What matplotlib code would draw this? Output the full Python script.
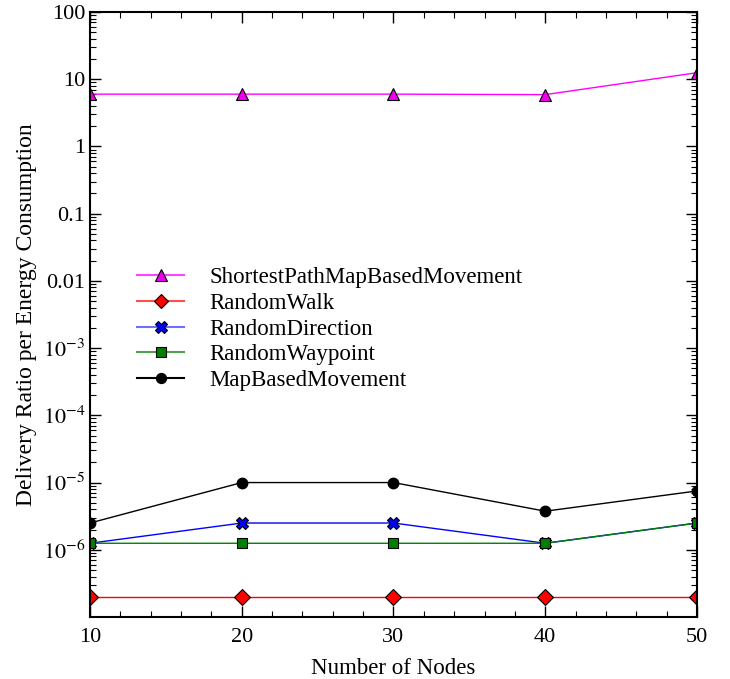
import matplotlib
matplotlib.use("Agg")
import matplotlib.pyplot as plt
from matplotlib.ticker import LogLocator, FixedLocator, MultipleLocator

plt.rcParams['font.family'] = ['Liberation Serif', 'DejaVu Serif']
plt.rcParams['mathtext.fontset'] = 'stix'

nodes = [10, 20, 30, 40, 50]
shortest_path = [6.0, 6.0, 6.0, 5.9, 12.5]
random_walk = [2e-7, 2e-7, 2e-7, 2e-7, 2e-7]
random_direction = [1.25e-6, 2.5e-6, 2.5e-6, 1.25e-6, 2.5e-6]
random_waypoint = [1.25e-6, 1.25e-6, 1.25e-6, 1.25e-6, 2.5e-6]
map_based = [2.5e-6, 1e-5, 1e-5, 3.75e-6, 7.5e-6]

y_ticks = [1e-6, 1e-5, 1e-4, 1e-3, 1e-2, 1e-1, 1, 10, 100]
y_labels = [r'$10^{-6}$', r'$10^{-5}$', r'$10^{-4}$', r'$10^{-3}$',
            '0.01', '0.1', '1', '10', '100']

fig = plt.figure(figsize=(7.3, 6.79), dpi=100)
ax = fig.add_axes([90/730, 62/679, 607/730, 605/679])

ax.plot(nodes, shortest_path, color='#ff00ff', lw=1, marker='^', ms=8.5,
        mfc='#ee00ee', mec='black', mew=0.8, label='ShortestPathMapBasedMovement')
ax.plot(nodes, random_walk, color='red', lw=1, marker='D', ms=8,
        mfc='red', mec='black', mew=0.8, label='RandomWalk')
ax.plot(nodes, random_direction, color='blue', lw=1, marker='X', ms=8.5,
        mfc='blue', mec='black', mew=0.8, label='RandomDirection')
ax.plot(nodes, random_waypoint, color='green', lw=1, marker='s', ms=7,
        mfc='green', mec='black', mew=0.8, label='RandomWaypoint')
ax.plot(nodes, map_based, color='black', lw=1, marker='o', ms=7.5,
        mfc='black', mec='black', label='MapBasedMovement')

ax.set_yscale('log')
ax.set_xlim(10, 50)
ax.set_ylim(1e-7, 100)
ax.set_xticks([10, 20, 30, 40, 50])
ax.xaxis.set_minor_locator(MultipleLocator(2))
ax.yaxis.set_major_locator(FixedLocator(y_ticks))
ax.set_yticklabels(y_labels)
ax.yaxis.set_minor_locator(LogLocator(base=10, subs=range(2, 10), numticks=20))

ax.tick_params(which='both', direction='in', top=True, right=True, labelsize=16)
ax.tick_params(which='major', length=8, width=1)
ax.tick_params(which='minor', length=4, width=0.8)
ax.tick_params(axis='x', which='major', pad=8)
for s in ax.spines.values():
    s.set_linewidth(1.5)

ax.set_xlabel('Number of Nodes', fontsize=16.5, labelpad=8)
ax.set_ylabel('Delivery Ratio per Energy Consumption', fontsize=17)

leg = ax.legend(loc='upper left', bbox_to_anchor=(0.0435, 0.612), frameon=False,
                fontsize=16.5, handlelength=2.05, labelspacing=0.2,
                handletextpad=1.1, markerscale=0.95)
legend_line_colors = ['#ff44ff', '#ff5050', '#7070ff', '#50a050', 'black']
for line, c in zip(leg.get_lines(), legend_line_colors):
    line.set_linewidth(1.5)
    line.set_color(c)

fig.savefig('out.png', dpi=100)
